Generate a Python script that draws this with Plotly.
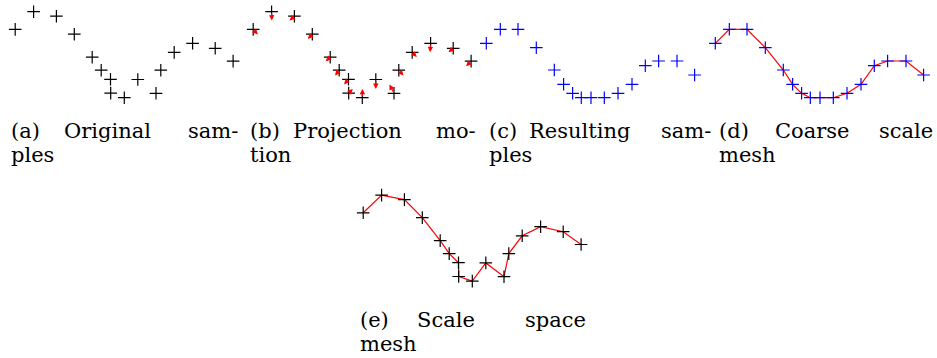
import plotly.graph_objects as go

W, H = 937, 358

# Original samples (x, y in scene units)
orig_x = [0.02, 1.86, 4.14, 5.93, 7.72, 8.62, 9.55, 9.57, 10.93, 12.28, 14.10, 14.58, 15.92, 17.76, 20.02, 21.81]
orig_y = [7.06, 8.83, 8.38, 6.58, 4.28, 2.98, 2.07, 0.69, 0.23, 2.05, 0.67, 2.98, 4.76, 5.67, 5.17, 3.89]

# Samples after projection
proj_x = [0.48, 1.88, 3.65, 5.48, 7.28, 8.21, 9.11, 9.98, 10.95, 12.28, 13.65, 15.05, 16.38, 17.71, 19.55, 21.31]
proj_y = [6.55, 7.95, 7.95, 6.11, 3.88, 2.45, 1.55, 1.11, 1.11, 1.11, 1.55, 2.45, 4.31, 4.78, 4.78, 3.38]

# Sub-figure captions: words of the justified first line, then the second line
captions = {
    "a": (["(a)", "Original", "sam-"], "ples"),
    "b": (["(b)", "Projection", "mo-"], "tion"),
    "c": (["(c)", "Resulting", "sam-"], "ples"),
    "d": (["(d)", "Coarse", "scale"], "mesh"),
    "e": (["(e)", "Scale", "space"], "mesh"),
}

SCALE = 10.0  # pixels per scene unit

# Panel frames in pixels: box (x0, x1, y0, y1) and the pixel position of scene origin
panels = {
    "a": dict(box=(0, 240, 0, 110), origin=(15.0, 100.0)),
    "b": dict(box=(238, 478, 0, 110), origin=(253.0, 100.0)),
    "c": dict(box=(471, 711, 0, 110), origin=(481.5, 108.8)),
    "d": dict(box=(697, 937, 0, 110), origin=(710.5, 108.8)),
    "e": dict(box=(348, 598, 180, 300), origin=(363.0, 283.4)),
}

# Caption word positions (pixels): column left/right, middle word left, line centres
cap_pos = {
    "a": dict(left=9, mid=62, right=240, y1=131, y2=155),
    "b": dict(left=248, mid=291, right=478, y1=131, y2=155),
    "c": dict(left=487, mid=527, right=713, y1=131, y2=155),
    "d": dict(left=717, mid=773, right=935, y1=131, y2=155),
    "e": dict(left=358, mid=415, right=588, y1=320, y2=344),
}

fig = go.Figure()
layout_axes = {}
axis_ids = {}
for i, key in enumerate(["a", "b", "c", "d", "e"], start=1):
    p = panels[key]
    x0, x1, y0, y1 = p["box"]
    ox, oy = p["origin"]
    sfx = "" if i == 1 else str(i)
    axis_ids[key] = ("x" + sfx, "y" + sfx)
    layout_axes["xaxis" + sfx] = dict(
        domain=[x0 / W, x1 / W],
        range=[(x0 - ox) / SCALE, (x1 - ox) / SCALE],
        visible=False, fixedrange=True,
        anchor="y" + sfx,
    )
    layout_axes["yaxis" + sfx] = dict(
        domain=[1 - y1 / H, 1 - y0 / H],
        range=[(oy - y1) / SCALE, (oy - y0) / SCALE],
        visible=False, fixedrange=True,
        anchor="x" + sfx,
    )

def crosses(x, y, color, key):
    xa, ya = axis_ids[key]
    return go.Scatter(
        x=x, y=y, mode="markers", xaxis=xa, yaxis=ya,
        marker=dict(symbol="cross-thin", size=9, line=dict(color=color, width=1.2)),
        showlegend=False, hoverinfo="skip",
    )

def polyline(x, y, key):
    xa, ya = axis_ids[key]
    return go.Scatter(
        x=x, y=y, mode="lines", xaxis=xa, yaxis=ya,
        line=dict(color="#ff0000", width=1.2),
        showlegend=False, hoverinfo="skip",
    )

# (a) original samples
fig.add_trace(crosses(orig_x, orig_y, "#000000", "a"))
# (b) original samples with projection motion arrows
fig.add_trace(crosses(orig_x, orig_y, "#000000", "b"))
# (c) resulting samples
fig.add_trace(crosses(proj_x, proj_y, "#0000ff", "c"))
# (d) coarse scale mesh
fig.add_trace(polyline(proj_x, proj_y, "d"))
fig.add_trace(crosses(proj_x, proj_y, "#0000ff", "d"))
# (e) scale space mesh
fig.add_trace(polyline(orig_x, orig_y, "e"))
fig.add_trace(crosses(orig_x, orig_y, "#000000", "e"))

annotations = []
xa, ya = axis_ids["b"]
for sx, sy, tx, ty in zip(orig_x, orig_y, proj_x, proj_y):
    annotations.append(dict(
        x=tx, y=ty, ax=sx, ay=sy, xref=xa, yref=ya, axref=xa, ayref=ya,
        text="", showarrow=True, arrowhead=2, arrowsize=0.9, arrowwidth=1.2,
        arrowcolor="#ff0000", standoff=0, startstandoff=0,
    ))

cap_font = dict(family="DejaVu Serif", size=21, color="#000000")
for key, (line1, line2) in captions.items():
    c = cap_pos[key]
    for word, xpx, anchor in zip(line1, (c["left"], c["mid"], c["right"]), ("left", "left", "right")):
        annotations.append(dict(
            x=xpx / W, y=1 - c["y1"] / H, xref="paper", yref="paper",
            text=word, showarrow=False, xanchor=anchor, yanchor="middle", font=cap_font,
        ))
    annotations.append(dict(
        x=c["left"] / W, y=1 - c["y2"] / H, xref="paper", yref="paper",
        text=line2, showarrow=False, xanchor="left", yanchor="middle", font=cap_font,
    ))

fig.update_layout(
    width=W, height=H,
    margin=dict(l=0, r=0, t=0, b=0),
    paper_bgcolor="#ffffff", plot_bgcolor="rgba(0,0,0,0)",
    annotations=annotations,
    **layout_axes,
)

fig.write_html("out.html")
